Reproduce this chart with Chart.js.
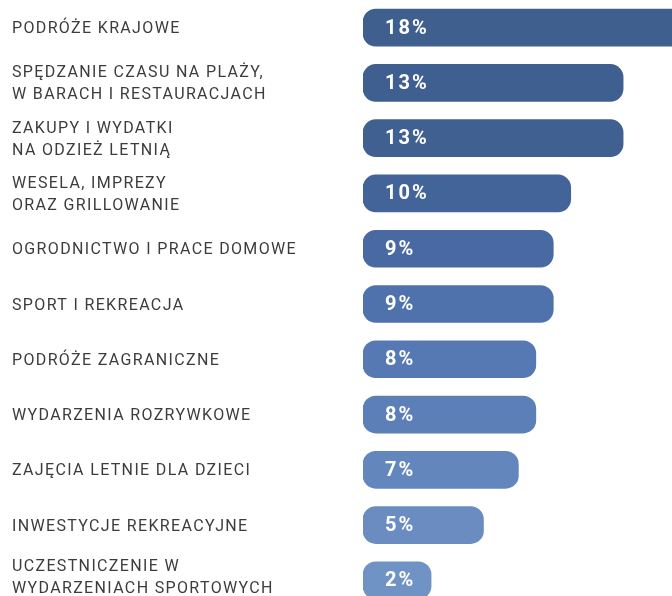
<!DOCTYPE html>
<html>
<head>
<meta charset="utf-8">
<script src="https://cdn.jsdelivr.net/npm/chart.js@4.4.1/dist/chart.umd.min.js"></script>
<style>
  html, body { margin: 0; padding: 0; background: #fff; overflow: hidden; }
  #wrap { position: relative; width: 672px; height: 608px; }
</style>
</head>
<body>
<div id="wrap"><canvas id="wykres"></canvas></div>
<script>
// dane z wykresu
const categories = [
  ['PODRÓŻE KRAJOWE'],
  ['SPĘDZANIE CZASU NA PLAŻY,', 'W BARACH I RESTAURACJACH'],
  ['ZAKUPY I WYDATKI', 'NA ODZIEŻ LETNIĄ'],
  ['WESELA, IMPREZY', 'ORAZ GRILLOWANIE'],
  ['OGRODNICTWO I PRACE DOMOWE'],
  ['SPORT I REKREACJA'],
  ['PODRÓŻE ZAGRANICZNE'],
  ['WYDARZENIA ROZRYWKOWE'],
  ['ZAJĘCIA LETNIE DLA DZIECI'],
  ['INWESTYCJE REKREACYJNE'],
  ['UCZESTNICZENIE W', 'WYDARZENIACH SPORTOWYCH']
];
const values = [18, 13, 13, 10, 9, 9, 8, 8, 7, 5, 2];

// kolory slupkow, od ciemnego do jasnego
const barColors = ['#3f5f8f', '#3f5f90', '#406092', '#436498', '#4869a2', '#4f72ac',
                   '#5679b3', '#5c7fb8', '#6386bd', '#6a8cc1', '#7093c6'];

const baseVal = -1.9;

// podpisy kategorii po lewej (z odstepami miedzy literami)
const podpisy = {
  id: 'podpisy',
  afterDraw(chart) {
    const ctx = chart.ctx;
    const yScale = chart.scales.y;
    ctx.save();
    ctx.font = '16px Roboto';
    ctx.letterSpacing = '1.35px';
    ctx.fillStyle = '#3c3c3c';
    ctx.textBaseline = 'middle';
    ctx.textAlign = 'left';
    categories.forEach((lines, i) => {
      const y = yScale.getPixelForTick(i);
      let start = y - (lines.length - 1) * 22 / 2 + 1.5;
      if (i == categories.length - 1) start -= 4; // ostatni podpis troche wyzej
      lines.forEach((t, j) => ctx.fillText(t, 12, start + j * 22));
    });
    ctx.restore();
  }
};

const etykiety = {
  id: 'etykiety',
  afterDatasetsDraw(chart) {
    const ctx = chart.ctx;
    const meta = chart.getDatasetMeta(0);
    ctx.save();
    ctx.font = 'bold 20px Roboto';
    ctx.letterSpacing = '2px';
    ctx.fillStyle = '#ffffff';
    ctx.textBaseline = 'middle';
    ctx.textAlign = 'left';
    meta.data.forEach((bar, i) => {
      ctx.fillText(values[i] + '%', bar.base + 22, bar.y + 1);
    });
    ctx.restore();
  }
};

new Chart(document.getElementById('wykres'), {
  type: 'bar',
  data: {
    labels: categories,
    datasets: [{
      data: values,
      base: baseVal,
      backgroundColor: barColors,
      borderRadius: 13,
      borderSkipped: false,
      barThickness: 37
    }]
  },
  options: {
    indexAxis: 'y',
    responsive: true,
    maintainAspectRatio: false,
    animation: false,
    layout: { padding: { left: 12, top: 0, right: 0, bottom: 0 } },
    plugins: {
      legend: { display: false },
      tooltip: { enabled: false }
    },
    scales: {
      x: {
        display: false,
        min: baseVal,
        max: baseVal + 17.7
      },
      y: {
        grid: { display: false },
        border: { display: false },
        ticks: { display: false },
        afterFit(scale) {
          scale.width = 351;
          scale.paddingTop = 0;
          scale.paddingBottom = 0;
        }
      }
    }
  },
  plugins: [etykiety, podpisy]
});
</script>
</body>
</html>
